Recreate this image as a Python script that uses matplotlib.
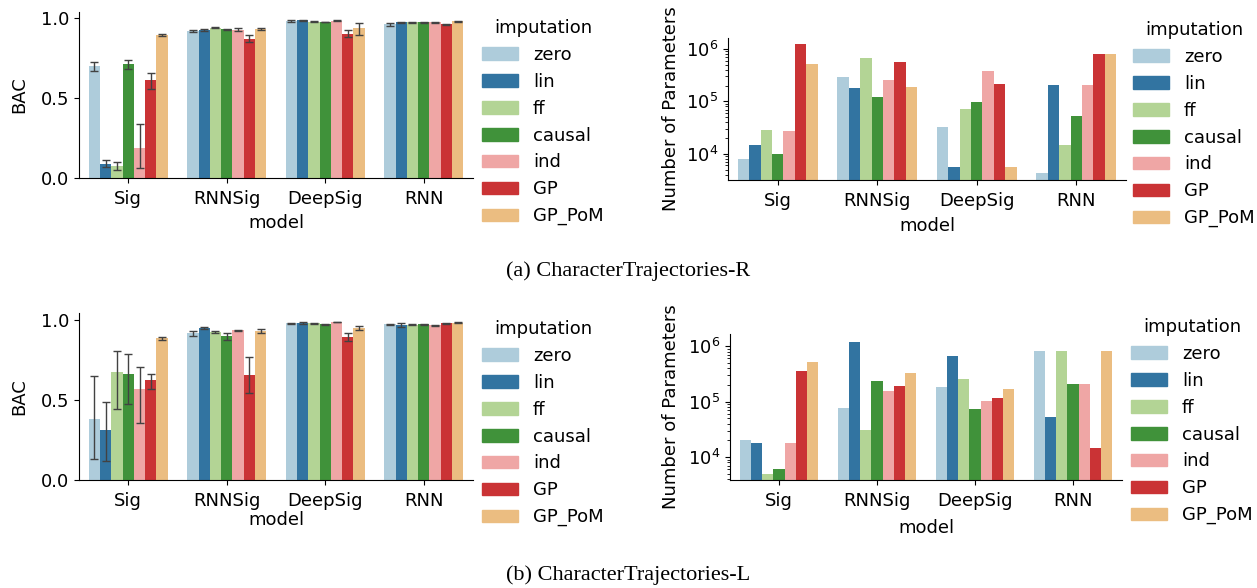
import colorsys
import numpy as np
import matplotlib
matplotlib.use("Agg")
import matplotlib.pyplot as plt
from matplotlib.patches import Patch

plt.rcParams["font.family"] = ["DejaVu Sans"]
plt.rcParams["font.size"] = 13
plt.rcParams["xtick.major.pad"] = 5.5

models = ["Sig", "RNNSig", "DeepSig", "RNN"]
imputations = ["zero", "lin", "ff", "causal", "ind", "GP", "GP_PoM"]

# BAC, CharacterTrajectories-R: mean, lower and upper CI bound per model (rows) and imputation (cols)
bac_r = [
    [0.698, 0.090, 0.073, 0.710, 0.185, 0.610, 0.892],
    [0.919, 0.925, 0.940, 0.929, 0.927, 0.871, 0.929],
    [0.981, 0.985, 0.977, 0.975, 0.983, 0.902, 0.935],
    [0.960, 0.973, 0.973, 0.973, 0.973, 0.960, 0.979],
]
bac_r_lo = [
    [0.668, 0.067, 0.048, 0.683, 0.065, 0.555, 0.885],
    [0.913, 0.921, 0.936, 0.925, 0.919, 0.851, 0.923],
    [0.977, 0.983, 0.974, 0.973, 0.980, 0.879, 0.893],
    [0.952, 0.968, 0.971, 0.969, 0.970, 0.956, 0.976],
]
bac_r_hi = [
    [0.728, 0.113, 0.098, 0.737, 0.340, 0.658, 0.899],
    [0.925, 0.929, 0.944, 0.933, 0.935, 0.891, 0.935],
    [0.985, 0.987, 0.980, 0.977, 0.986, 0.925, 0.969],
    [0.968, 0.978, 0.975, 0.977, 0.976, 0.964, 0.982],
]

# BAC, CharacterTrajectories-L
bac_l = [
    [0.381, 0.312, 0.675, 0.662, 0.569, 0.625, 0.887],
    [0.917, 0.950, 0.925, 0.898, 0.937, 0.656, 0.931],
    [0.979, 0.981, 0.979, 0.975, 0.987, 0.894, 0.950],
    [0.975, 0.971, 0.971, 0.975, 0.967, 0.979, 0.983],
]
bac_l_lo = [
    [0.129, 0.121, 0.444, 0.473, 0.358, 0.569, 0.877],
    [0.900, 0.942, 0.917, 0.878, 0.934, 0.546, 0.920],
    [0.977, 0.977, 0.976, 0.972, 0.985, 0.866, 0.936],
    [0.972, 0.958, 0.968, 0.972, 0.964, 0.976, 0.979],
]
bac_l_hi = [
    [0.650, 0.490, 0.806, 0.787, 0.708, 0.665, 0.896],
    [0.933, 0.956, 0.933, 0.918, 0.940, 0.769, 0.942],
    [0.981, 0.985, 0.982, 0.978, 0.989, 0.922, 0.964],
    [0.978, 0.984, 0.974, 0.978, 0.970, 0.982, 0.987],
]

# number of parameters
params_r = [
    [8000, 15000, 29000, 9700, 27800, 1260000, 526000],
    [297000, 183000, 684000, 124000, 260000, 574000, 192000],
    [31800, 5500, 73000, 99000, 386000, 219000, 5500],
    [4350, 206000, 15000, 53700, 206000, 815000, 815000],
]
params_l = [
    [20600, 18100, 4860, 6150, 18100, 363000, 528000],
    [78000, 1210000, 31200, 240000, 158000, 195000, 334000],
    [187000, 678000, 260000, 74700, 104000, 118000, 172000],
    [802000, 53600, 802000, 211000, 211000, 14700, 836000],
]


def desat(c, prop=0.75):
    h, l, s = colorsys.rgb_to_hls(*matplotlib.colors.to_rgb(c))
    return colorsys.hls_to_rgb(h, l, s * prop)


colors = [desat(c) for c in ["#a6cee3", "#1f78b4", "#b2df8a", "#33a02c",
                             "#fb9a99", "#e31a1c", "#fdbf6f"]]

W, H = 1257, 588
fig = plt.figure(figsize=(W / 100, H / 100), dpi=100)


def px_axes(left, right, top, bottom):
    return fig.add_axes([left / W, 1 - bottom / H, (right - left) / W, (bottom - top) / H])


def style(ax, xpad):
    for s in ["top", "right"]:
        ax.spines[s].set_visible(False)
    ax.set_xlim(-0.5, 3.5)
    ax.set_xticks(range(len(models)))
    ax.set_xticklabels(models)
    ax.set_xlabel("model", labelpad=xpad)


def bars(ax, vals, lo=None, hi=None):
    w = 0.8 / len(imputations)
    vals = np.array(vals)
    for j, imp in enumerate(imputations):
        x = np.arange(len(models)) + (j - 3) * w
        ax.bar(x, vals[:, j], width=w, color=colors[j], linewidth=0)
        if lo is not None:
            lo_a, hi_a = np.array(lo)[:, j], np.array(hi)[:, j]
            ax.errorbar(x, vals[:, j], yerr=[vals[:, j] - lo_a, hi_a - vals[:, j]],
                        fmt="none", ecolor="#424242", elinewidth=1.0, capsize=2.6,
                        capthick=1.0)


def legend(ax, x, y):
    handles = [Patch(color=c) for c in colors]
    ax.legend(handles, imputations, title="imputation", frameon=False,
              loc="upper left", bbox_to_anchor=(x / W, 1 - y / H),
              bbox_transform=fig.transFigure, labelspacing=0.49,
              handlelength=2.0, handletextpad=0.8, title_fontsize=13)


# top left
ax = px_axes(79, 473, 11.6, 178)
bars(ax, bac_r, bac_r_lo, bac_r_hi)
style(ax, 4)
ax.set_ylim(0, 1.04)
ax.set_yticks([0.0, 0.5, 1.0])
ax.set_ylabel("BAC", labelpad=9)
legend(ax, 466, 3)

# top right
ax = px_axes(728, 1126, 38, 180)
bars(ax, params_r)
ax.set_yscale("log")
style(ax, 4.6)
ax.set_ylim(10 ** 3.5, 10 ** 6.21)
ax.set_ylabel("Number of Parameters")
legend(ax, 1117, 5)

# bottom left
ax = px_axes(79, 473, 313, 480)
bars(ax, bac_l, bac_l_lo, bac_l_hi)
style(ax, 0.5)
ax.set_ylim(0, 1.044)
ax.set_yticks([0.0, 0.5, 1.0])
ax.set_ylabel("BAC", labelpad=9)
legend(ax, 466, 304)

# bottom right
ax = px_axes(730, 1122, 334, 480)
bars(ax, params_l)
ax.set_yscale("log")
style(ax, 6)
ax.set_ylim(10 ** 3.585, 10 ** 6.22)
ax.set_ylabel("Number of Parameters", labelpad=6)
legend(ax, 1115, 302)

fig.text(0.5, 1 - 271 / H, "(a) CharacterTrajectories-R", ha="center", va="center",
         family="Liberation Serif", fontsize=16)
fig.text(0.5, 1 - 575 / H, "(b) CharacterTrajectories-L", ha="center", va="center",
         family="Liberation Serif", fontsize=16)

fig.savefig("out.png", dpi=100)
